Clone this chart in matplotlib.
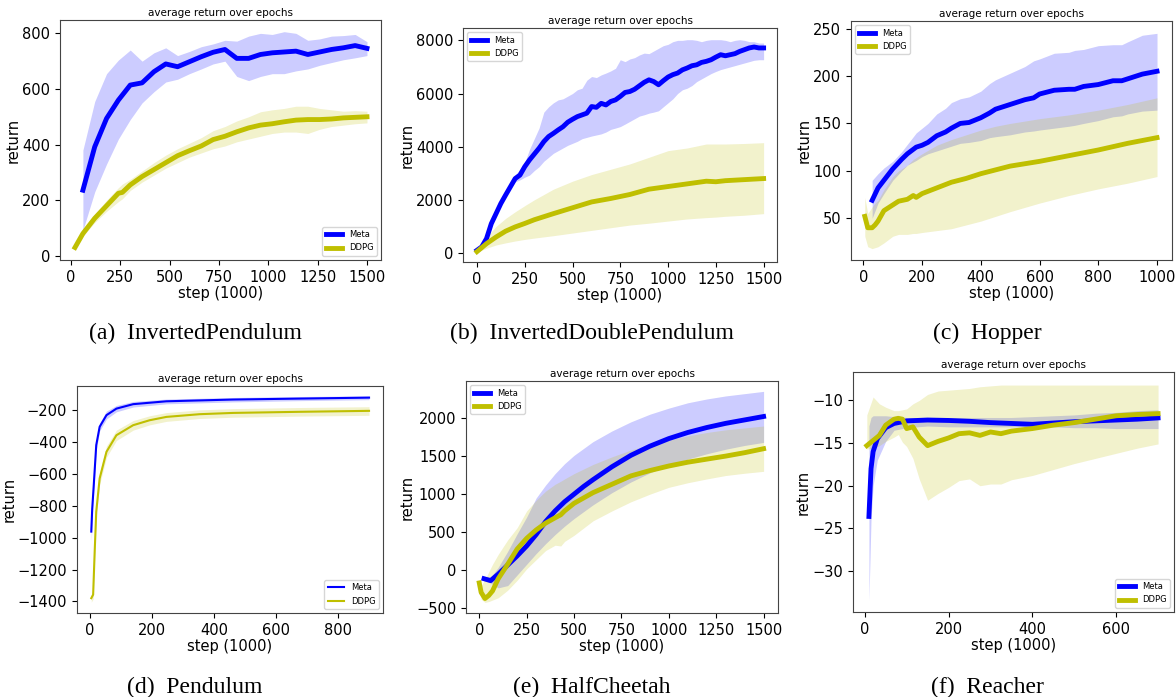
import numpy as np
import matplotlib
matplotlib.use("Agg")
import matplotlib.pyplot as plt
from matplotlib.ticker import MultipleLocator

plt.rcParams["font.family"] = ["DejaVu Sans"]

# ---- (a) InvertedPendulum ----
a_meta_x = [60, 120, 180, 240, 300, 360, 420, 480, 540, 600, 660, 720, 780, 840, 900, 960,
            1020, 1080, 1140, 1200, 1260, 1320, 1380, 1440, 1500]
a_meta_y = [236, 392, 494, 560, 614, 622, 662, 690, 680, 698, 716, 732, 742, 710, 710, 724,
            730, 733, 736, 724, 733, 742, 748, 756, 746]
a_meta_hi = [380, 555, 655, 704, 740, 700, 730, 748, 720, 735, 752, 762, 775, 772, 790, 800,
             796, 806, 800, 775, 780, 790, 792, 796, 770]
a_meta_lo = [92, 230, 330, 420, 490, 550, 590, 625, 635, 655, 672, 690, 700, 645, 630, 645,
             655, 655, 665, 672, 685, 695, 705, 712, 720]
a_ddpg_x = [20, 60, 120, 180, 240, 260, 300, 360, 420, 480, 540, 600, 660, 720, 780, 840, 900,
            960, 1020, 1080, 1140, 1200, 1260, 1320, 1380, 1440, 1500]
a_ddpg_y = [30, 80, 135, 180, 225, 228, 255, 285, 310, 335, 360, 378, 395, 418, 430, 446, 460,
            470, 475, 482, 488, 490, 490, 492, 496, 498, 500]
a_ddpg_hi = [35, 95, 150, 200, 245, 258, 275, 305, 335, 362, 385, 405, 425, 450, 465, 485, 500,
             518, 525, 530, 538, 538, 530, 525, 520, 522, 520]
a_ddpg_lo = [25, 70, 120, 160, 195, 205, 235, 265, 290, 315, 335, 355, 370, 385, 395, 410, 420,
             430, 440, 445, 445, 440, 455, 465, 470, 475, 478]

# ---- (b) InvertedDoublePendulum ----
b_meta_x = [0, 25, 50, 75, 100, 125, 150, 175, 200, 225, 250, 275, 300, 325, 350, 375, 400,
            425, 450, 475, 500, 525, 550, 575, 600, 625, 650, 675, 700, 725, 750, 775, 800,
            825, 850, 875, 900, 925, 950, 975, 1000, 1025, 1050, 1075, 1100, 1125, 1150,
            1175, 1200, 1225, 1250, 1275, 1300, 1325, 1350, 1375, 1400, 1425, 1450, 1475, 1500]
b_meta_y = [100, 230, 540, 1100, 1480, 1860, 2180, 2490, 2800, 2930, 3245, 3500, 3720, 3940,
            4190, 4380, 4500, 4630, 4750, 4920, 5030, 5130, 5195, 5260, 5510, 5480, 5630, 5570,
            5700, 5760, 5890, 6040, 6075, 6160, 6290, 6420, 6515, 6450, 6330, 6480, 6620, 6710,
            6770, 6890, 6960, 7045, 7080, 7170, 7210, 7270, 7370, 7460, 7420, 7460, 7500, 7585,
            7650, 7715, 7750, 7715, 7715]
b_meta_hi = [110, 250, 570, 1130, 1520, 1900, 2230, 2560, 2920, 3150, 3400, 3900, 4300, 4700,
             5300, 5500, 5650, 5760, 5800, 5900, 6000, 6140, 6200, 6500, 6640, 6600, 6700, 6770,
             6850, 6950, 7270, 7200, 7300, 7350, 7450, 7520, 7500, 7600, 7700, 7800, 7850, 7950,
             8000, 8000, 8025, 8025, 8000, 7950, 8000, 8025, 8025, 8025, 8000, 7950, 8000, 8025,
             8000, 7950, 7950, 7900, 7900]
b_meta_lo = [90, 210, 510, 1070, 1440, 1820, 2130, 2420, 2680, 2750, 2850, 2930, 3100, 3245,
             3450, 3600, 3750, 3850, 3950, 4050, 4125, 4200, 4300, 4350, 4400, 4440, 4480, 4550,
             4650, 4700, 4755, 4850, 4950, 5050, 5150, 5200, 5260, 5300, 5350, 5500, 5650, 5800,
             6000, 6140, 6200, 6300, 6450, 6550, 6650, 6750, 6830, 6900, 6950, 7000, 7050, 7100,
             7150, 7200, 7250, 7270, 7270]
b_ddpg_x = [0, 50, 100, 150, 200, 250, 300, 400, 500, 600, 700, 800, 900, 1000, 1100, 1200,
            1250, 1300, 1400, 1500]
b_ddpg_y = [50, 350, 600, 820, 980, 1110, 1250, 1480, 1700, 1920, 2050, 2200, 2400, 2500, 2600,
            2700, 2680, 2720, 2760, 2800]
b_ddpg_hi = [80, 600, 1000, 1300, 1550, 1780, 2000, 2400, 2700, 2950, 3150, 3350, 3600, 3850,
             3950, 4100, 4100, 4100, 4120, 4150]
b_ddpg_lo = [30, 180, 300, 380, 450, 510, 560, 650, 750, 850, 950, 1050, 1120, 1200, 1280, 1330,
             1350, 1380, 1420, 1480]

# ---- (c) Hopper ----
c_meta_x = [30, 50, 70, 100, 130, 150, 180, 200, 220, 250, 280, 300, 330, 360, 400, 430, 450,
            500, 550, 580, 600, 650, 700, 720, 750, 800, 850, 880, 900, 950, 1000]
c_meta_y = [69, 82, 90, 102, 112, 118, 125, 127, 130, 137, 141, 145, 150, 151, 156, 161, 165,
            170, 175, 177, 181, 185, 186, 186, 189, 191, 195, 195, 197, 202, 205]
c_meta_hi = [90, 97, 103, 110, 120, 128, 140, 145, 150, 160, 166, 172, 176, 178, 184, 192, 196,
             203, 210, 216, 218, 224, 225, 227, 228, 232, 233, 233, 236, 243, 245]
c_meta_lo = [50, 66, 76, 90, 100, 106, 111, 115, 118, 121, 124, 126, 129, 130, 132, 135, 136,
             138, 141, 142, 143, 145, 147, 148, 150, 153, 157, 158, 160, 163, 164]
c_ddpg_x = [5, 15, 30, 40, 50, 70, 100, 120, 150, 170, 180, 200, 250, 300, 350, 400, 450, 500,
            600, 700, 800, 900, 1000]
c_ddpg_y = [52, 40, 40, 43, 47, 58, 64, 68, 70, 74, 72, 76, 82, 88, 92, 97, 101, 105, 110, 116,
            122, 129, 135]
c_ddpg_hi = [72, 55, 62, 66, 69, 80, 94, 100, 106, 112, 114, 118, 127, 133, 138, 143, 147, 150,
             155, 159, 164, 170, 177]
c_ddpg_lo = [31, 20, 18, 19, 20, 24, 31, 33, 33, 34, 34, 35, 37, 39, 43, 47, 52, 57, 66, 74,
             81, 87, 94]

# ---- (d) Pendulum ----
d_meta_x = [5, 8, 13, 21, 32, 54, 86, 140, 247, 462, 677, 900]
d_meta_y = [-962, -820, -670, -419, -304, -231, -190, -162, -144, -133, -127, -121]
d_meta_hi = [-900, -780, -630, -390, -280, -205, -170, -145, -130, -120, -114, -110]
d_meta_lo = [-1025, -870, -710, -450, -330, -255, -210, -180, -160, -148, -140, -134]
d_ddpg_x = [5, 11, 16, 21, 32, 54, 86, 140, 193, 247, 354, 462, 677, 900]
d_ddpg_y = [-1380, -1358, -1087, -837, -628, -461, -357, -294, -263, -242, -225, -217, -210,
            -204]
d_ddpg_hi = [-1360, -1330, -1050, -800, -590, -425, -325, -265, -235, -215, -198, -190, -183,
             -178]
d_ddpg_lo = [-1405, -1385, -1120, -870, -665, -495, -390, -325, -292, -270, -252, -244, -237,
             -232]

# ---- (e) HalfCheetah ----
e_meta_x = [25, 60, 100, 150, 200, 250, 300, 350, 400, 450, 500, 550, 600, 700, 800, 900, 1000,
            1100, 1200, 1300, 1400, 1500]
e_meta_y = [-110, -135, -50, 70, 190, 320, 470, 640, 780, 900, 1000, 1100, 1190, 1360, 1510,
            1630, 1730, 1810, 1875, 1930, 1975, 2020]
e_meta_hi = [-80, -90, 40, 250, 480, 700, 950, 1120, 1270, 1400, 1510, 1600, 1690, 1830, 1950,
             2050, 2130, 2200, 2250, 2290, 2320, 2350]
e_meta_lo = [-130, -170, -230, -200, -60, 80, 220, 350, 470, 580, 680, 770, 860, 1020, 1160,
             1280, 1380, 1460, 1530, 1590, 1640, 1680]
e_ddpg_x = [0, 10, 30, 50, 70, 100, 150, 200, 250, 300, 350, 400, 430, 450, 500, 600, 700, 800,
            900, 1000, 1100, 1200, 1300, 1400, 1500]
e_ddpg_y = [-165, -290, -370, -330, -270, -110, 80, 280, 420, 530, 620, 690, 730, 780, 880, 1020,
            1130, 1240, 1310, 1370, 1420, 1460, 1500, 1545, 1597]
e_ddpg_hi = [-160, -200, -120, -20, 80, 210, 400, 560, 780, 920, 1040, 1130, 1170, 1200, 1270,
             1390, 1490, 1580, 1650, 1710, 1765, 1810, 1845, 1870, 1895]
e_ddpg_lo = [-190, -380, -420, -410, -390, -360, -260, -130, 20, 140, 260, 330, 320, 380, 460,
             650, 780, 900, 1000, 1090, 1150, 1200, 1245, 1275, 1300]

# ---- (f) Reacher ----
f_meta_x = [10, 15, 20, 30, 50, 70, 100, 150, 200, 250, 300, 350, 400, 450, 500, 550, 600, 650,
            700]
f_meta_y = [-23.6, -18.0, -16.0, -14.5, -13.2, -12.7, -12.4, -12.3, -12.35, -12.45, -12.6, -12.7,
            -12.8, -12.65, -12.5, -12.4, -12.3, -12.2, -12.05]
f_meta_hi = [-13.0, -12.0, -11.8, -11.8, -11.8, -11.9, -12.0, -12.0, -12.0, -12.0, -12.0, -12.0,
             -11.9, -11.8, -11.7, -11.5, -11.4, -11.2, -11.1]
f_meta_lo = [-33.5, -24.0, -20.0, -17.0, -14.8, -13.5, -13.2, -13.0, -13.1, -13.1, -13.1, -13.1,
             -13.1, -13.1, -13.2, -13.2, -13.3, -13.3, -13.3]
f_ddpg_x = [5, 20, 35, 50, 70, 80, 90, 100, 115, 130, 150, 175, 200, 225, 250, 275, 300, 325,
            350, 400, 450, 500, 550, 600, 650, 700]
f_ddpg_y = [-15.3, -14.7, -14.1, -12.9, -12.2, -12.1, -12.2, -13.3, -13.1, -14.3, -15.3, -14.8,
            -14.4, -13.9, -13.8, -14.1, -13.7, -13.9, -13.6, -13.3, -12.9, -12.6, -12.2, -11.8,
            -11.65, -11.55]
f_ddpg_hi = [-11.7, -9.6, -10.4, -10.8, -11.2, -11.2, -11.1, -11.0, -10.4, -10.0, -9.3, -8.9,
             -8.8, -8.7, -8.6, -8.4, -8.3, -8.2, -8.2, -8.2, -8.2, -8.2, -8.2, -8.2, -8.2, -8.2]
f_ddpg_lo = [-15.7, -15.6, -15.3, -14.8, -14.3, -14.0, -14.9, -15.4, -16.8, -19.2, -21.7, -20.9,
             -20.2, -19.4, -19.2, -20.0, -19.8, -19.8, -19.3, -18.8, -18.1, -17.4, -16.8, -16.2,
             -15.6, -15.1]

panels = [
    dict(name="(a)  InvertedPendulum", rect=(60, 20, 381, 260), xlim=(-56, 1571), ylim=(-15, 848),
         meta=(a_meta_x, a_meta_y, a_meta_hi, a_meta_lo), ddpg=(a_ddpg_x, a_ddpg_y, a_ddpg_hi, a_ddpg_lo),
         loc="lower right", lw=3.5, cap=(195, 333), xstep=250, ystep=200),
    dict(name="(b)  InvertedDoublePendulum", rect=(463, 28, 777, 262), xlim=(-73, 1570), ylim=(-340, 8465),
         meta=(b_meta_x, b_meta_y, b_meta_hi, b_meta_lo), ddpg=(b_ddpg_x, b_ddpg_y, b_ddpg_hi, b_ddpg_lo),
         loc="upper left", lw=3.5, cap=(592, 333), xstep=250, ystep=2000),
    dict(name="(c)  Hopper", rect=(851, 21, 1172, 260), xlim=(-42, 1051), ylim=(6, 258),
         meta=(c_meta_x, c_meta_y, c_meta_hi, c_meta_lo), ddpg=(c_ddpg_x, c_ddpg_y, c_ddpg_hi, c_ddpg_lo),
         loc="upper left", lw=3.5, cap=(987, 333), xstep=200, ystep=50),
    dict(name="(d)  Pendulum", rect=(77, 386, 383, 613), xlim=(-41, 945), ylim=(-1473, -48),
         meta=(d_meta_x, d_meta_y, d_meta_hi, d_meta_lo), ddpg=(d_ddpg_x, d_ddpg_y, d_ddpg_hi, d_ddpg_lo),
         loc="lower right", lw=1.5, cap=(195, 687), xstep=200, ystep=200),
    dict(name="(e)  HalfCheetah", rect=(466, 381, 778, 613), xlim=(-70, 1576), ylim=(-560, 2486),
         meta=(e_meta_x, e_meta_y, e_meta_hi, e_meta_lo), ddpg=(e_ddpg_x, e_ddpg_y, e_ddpg_hi, e_ddpg_lo),
         loc="upper left", lw=3.5, cap=(592, 687), xstep=250, ystep=500),
    dict(name="(f)  Reacher", rect=(853, 372, 1174, 612), xlim=(-28, 738), ylim=(-34.8, -6.67),
         meta=(f_meta_x, f_meta_y, f_meta_hi, f_meta_lo), ddpg=(f_ddpg_x, f_ddpg_y, f_ddpg_hi, f_ddpg_lo),
         loc="lower right", lw=3.5, cap=(987, 687), xstep=200, ystep=5),
]

W, H = 1176, 697
fig = plt.figure(figsize=(W / 100, H / 100), dpi=100)

for p in panels:
    x0, y0, x1, y1 = p["rect"]
    ax = fig.add_axes([x0 / W, 1 - y1 / H, (x1 - x0) / W, (y1 - y0) / H])
    for (xs, ys, hi, lo), color, label in [(p["meta"], "b", "Meta"), (p["ddpg"], "y", "DDPG")]:
        ax.plot(xs, ys, color=color, lw=p["lw"], label=label, zorder=3)
        ax.fill_between(xs, lo, hi, color=color, alpha=0.2, lw=0)
    ax.set_xlim(*p["xlim"])
    ax.set_ylim(*p["ylim"])
    ax.xaxis.set_major_locator(MultipleLocator(p["xstep"]))
    ax.yaxis.set_major_locator(MultipleLocator(p["ystep"]))
    ax.set_title("average return over epochs", fontsize=7.5, pad=3)
    ax.set_xlabel("step (1000)", fontsize=10.5, labelpad=1)
    ax.set_ylabel("return", fontsize=10.5, labelpad=1)
    ax.tick_params(labelsize=10.5)
    for s in ax.spines.values():
        s.set_color("#444444")
    ax.legend(loc=p["loc"], fontsize=6)
    cx, cy = p["cap"]
    fig.text(cx / W, 1 - cy / H, p["name"], ha="center", va="center",
             family="Liberation Serif", fontsize=17)

fig.savefig("out.png", dpi=100)
